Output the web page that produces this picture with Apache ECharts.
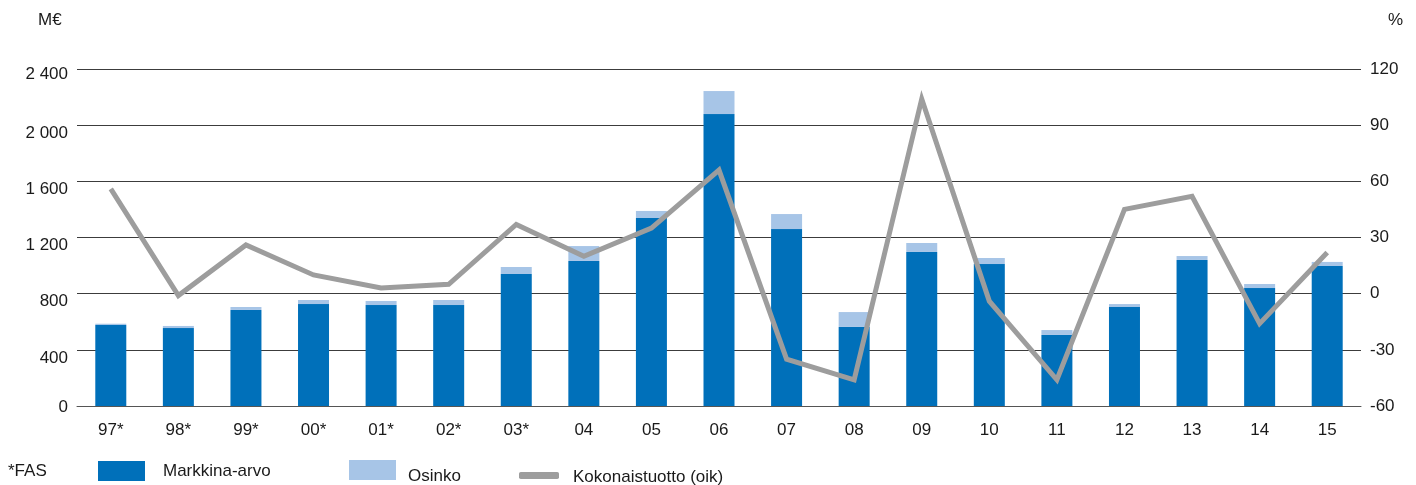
<!DOCTYPE html>
<html>
<head>
<meta charset="utf-8">
<script src="https://cdn.jsdelivr.net/npm/echarts@6/dist/echarts.min.js"></script>
<style>
html,body{margin:0;padding:0;background:#fff;}
#chart{width:1416px;height:485px;}
</style>
</head>
<body>
<div id="chart"></div>
<script>
const categories = ['97*','98*','99*','00*','01*','02*','03*','04','05','06','07','08','09','10','11','12','13','14','15'];
const markkinaArvo = [577,555,684,726,719,719,940,1033,1339,2079,1260,563,1097,1011,506,705,1040,840,997];
const osinko = [9,15,21,29,29,36,50,106,50,164,107,106,64,43,35,21,28,29,29];
const kokonaistuotto = [56,-1,26,10,3,5,37,20,35,66,-35,-46,104,-4,-46,45,52,-16,22];
const leftTicks = [0,400,800,1200,1600,2000,2400];
const rightTicks = [-60,-30,0,30,60,90,120];

const FONT = '"Liberation Sans", Arial, sans-serif';
const TXT = '#1a1a1a';
const chart = echarts.init(document.getElementById('chart'), null, {renderer:'canvas'});

function fmtThousands(v){
  return String(v).replace(/\B(?=(\d{3})+(?!\d))/g, ' ');
}

chart.setOption({
  animation:false,
  textStyle:{fontFamily:FONT},
  grid:{left:77,right:55,top:69,bottom:79,containLabel:false},
  xAxis:{
    type:'category',
    data:categories,
    boundaryGap:true,
    axisTick:{show:false},
    axisLine:{show:true,lineStyle:{color:'#555',width:1}},
    axisLabel:{fontSize:17,color:TXT,margin:16,fontFamily:FONT}
  },
  yAxis:[
    {
      type:'value',min:leftTicks[0],max:leftTicks[leftTicks.length-1],interval:400,
      axisLine:{show:false},axisTick:{show:false},
      splitLine:{show:true,lineStyle:{color:'#3c3c3c',width:1}},
      axisLabel:{
        fontSize:17,color:TXT,margin:9,fontFamily:FONT,
        formatter:function(v){
          const s = fmtThousands(v);
          if (v===0) return '{z|'+s+'}';
          if (v===2400) return '{t|'+s+'}';
          return '{d|'+s+'}';
        },
        rich:{
          z:{fontSize:17,color:TXT,fontFamily:FONT,padding:[2,0,0,0]},
          t:{fontSize:17,color:TXT,fontFamily:FONT,padding:[10,0,0,0]},
          d:{fontSize:17,color:TXT,fontFamily:FONT,padding:[16,0,0,0]}
        }
      }
    },
    {
      type:'value',min:rightTicks[0],max:rightTicks[rightTicks.length-1],interval:30,
      position:'right',
      axisLine:{show:false},axisTick:{show:false},
      splitLine:{show:false},
      axisLabel:{fontSize:17,color:TXT,margin:9,fontFamily:FONT}
    }
  ],
  legend:[
    {
      data:[{name:'Markkina-arvo',icon:'rect'}],left:98,top:461,padding:0,
      itemWidth:47,itemHeight:20,
      formatter:function(n){return '{m|'+n+'}';},
      textStyle:{fontSize:17,color:TXT,fontFamily:FONT,
        rich:{m:{fontSize:17,color:TXT,fontFamily:FONT,padding:[0,0,0,13]}}}
    },
    {
      data:[{name:'Osinko',icon:'rect'}],left:349,top:460,padding:0,
      itemWidth:47,itemHeight:20,
      formatter:function(n){return '{o|'+n+'}';},
      textStyle:{fontSize:17,color:TXT,fontFamily:FONT,
        rich:{o:{fontSize:17,color:TXT,fontFamily:FONT,padding:[12,0,0,7]}}}
    },
    {
      data:[{name:'Kokonaistuotto (oik)',icon:'roundRect'}],left:519,top:469,padding:0,
      itemWidth:40,itemHeight:7,
      formatter:function(n){return '{k|'+n+'}';},
      textStyle:{fontSize:17,color:TXT,fontFamily:FONT,
        rich:{k:{fontSize:17,color:TXT,fontFamily:FONT,padding:[4,0,0,9]}}}
    }
  ],
  graphic:[
    {type:'text',left:8,top:463,style:{text:'*FAS',fontSize:17,fill:TXT,fontFamily:FONT}},
    {type:'text',left:38,top:12,style:{text:'M€',fontSize:17,fill:TXT,fontFamily:FONT}},
    {type:'text',left:1388,top:12,style:{text:'%',fontSize:17,fill:TXT,fontFamily:FONT}}
  ],
  series:[
    {
      name:'Markkina-arvo',type:'bar',stack:'a',barWidth:31,
      data:markkinaArvo,itemStyle:{color:'#0070ba'},z:2
    },
    {
      name:'Osinko',type:'bar',stack:'a',barWidth:31,
      data:osinko,itemStyle:{color:'#a7c5e7'},z:2
    },
    {
      name:'Kokonaistuotto (oik)',type:'line',yAxisIndex:1,
      data:kokonaistuotto,symbol:'none',
      lineStyle:{color:'#9d9d9d',width:5,join:'miter'},
      itemStyle:{color:'#9d9d9d'},z:5
    }
  ]
});
</script>
</body>
</html>
